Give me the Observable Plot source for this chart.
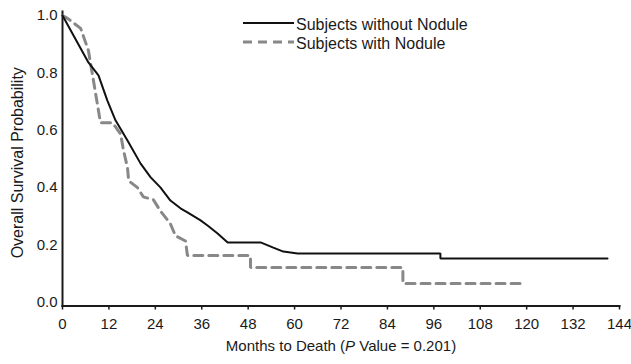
<!DOCTYPE html>
<html>
<head>
<meta charset="utf-8">
<script src="https://cdn.jsdelivr.net/npm/d3@7"></script>
<script src="https://cdn.jsdelivr.net/npm/@observablehq/plot@0.6"></script>
<style>
  html, body { margin: 0; padding: 0; background: #fff; }
  #chart { position: relative; width: 631px; height: 364px; }
  #chart svg { font-family: "Liberation Sans", Arial, sans-serif; }
</style>
</head>
<body>
<div id="chart"></div>
<script>
// Subjects without Nodule (solid curve): months and survival probability
const noNoduleMonths = [0, 6.7, 9.3, 11.6, 13.7, 16.8, 20.2, 22.8, 25.3, 27.9, 30.5, 32.3, 35.7, 37.5, 40.1, 42.7, 51.2, 54.5, 57.1, 60.8, 97.7, 97.7, 140.9];
const noNoduleSurv   = [1.0, 0.836, 0.791, 0.703, 0.634, 0.564, 0.483, 0.435, 0.400, 0.354, 0.327, 0.313, 0.285, 0.267, 0.239, 0.208, 0.208, 0.190, 0.176, 0.169, 0.169, 0.152, 0.152];

// Subjects with Nodule (dashed curve)
const noduleMonths = [0, 1.3, 4.7, 6.7, 8.0, 9.3, 9.8, 12.9, 15.0, 15.8, 16.8, 17.1, 19.4, 20.9, 23.5, 25.3, 27.9, 29.2, 31.8, 32.3, 48.6, 48.6, 88.0, 88.0, 118.4];
const noduleSurv   = [1.0, 0.99, 0.955, 0.878, 0.773, 0.668, 0.626, 0.626, 0.587, 0.528, 0.469, 0.423, 0.399, 0.367, 0.357, 0.318, 0.273, 0.231, 0.213, 0.162, 0.162, 0.120, 0.120, 0.065, 0.065];

const seriesNames = ["Subjects without Nodule", "Subjects with Nodule"];
const xTicks = [0, 12, 24, 36, 48, 60, 72, 84, 96, 108, 120, 132, 144];
const yTicks = [0, 0.2, 0.4, 0.6, 0.8, 1.0];
const xTitle = "Months to Death (P Value = 0.201)";
const yTitle = "Overall Survival Probability";

const solid = noNoduleMonths.map((m, i) => ({month: m, surv: noNoduleSurv[i]}));
const dashed = noduleMonths.map((m, i) => ({month: m, surv: noduleSurv[i]}));

const textColor = "#1a1a1a";
const solidColor = "#111111";
const dashColor = "#888888";

const chart = Plot.plot({
  width: 631,
  height: 364,
  marginLeft: 62,
  marginRight: 12,
  marginTop: 11,
  marginBottom: 58.5,
  style: {fontFamily: "Liberation Sans, Arial, sans-serif", fontSize: "15px", color: textColor, background: "#fff"},
  x: {domain: [0, 144], ticks: xTicks},
  y: {domain: [0, 1], insetTop: 4, insetBottom: 4},
  marks: [
    Plot.axisX({ticks: xTicks, tickSize: 4, tickPadding: 8, label: null, fontSize: 15, stroke: textColor, strokeWidth: 1.5}),
    Plot.axisY({ticks: yTicks, tickSize: 0, tickPadding: 5, tickFormat: d3.format(".1f"), label: null, fontSize: 15}),
    Plot.frame({anchor: "bottom", stroke: textColor, strokeWidth: 2}),
    Plot.frame({anchor: "left", stroke: textColor, strokeWidth: 2}),
    Plot.line(dashed, {x: "month", y: "surv", stroke: dashColor, strokeWidth: 3, strokeDasharray: "9,6", strokeLinejoin: "miter"}),
    Plot.line(solid, {x: "month", y: "surv", stroke: solidColor, strokeWidth: 2, strokeLinejoin: "miter"}),
    Plot.text([xTitle], {frameAnchor: "bottom", textAnchor: "middle", dy: 44.5, fontSize: 15, fill: textColor}),
    Plot.text([yTitle], {frameAnchor: "left", textAnchor: "middle", rotate: -90, dx: -45, dy: 4, fontSize: 16, fill: textColor})
  ]
});

document.getElementById("chart").appendChild(chart);

// Italic "P" in the x title
d3.select(chart).selectAll("text").filter(function() { return this.textContent === xTitle; })
  .each(function() {
    const t = d3.select(this);
    t.text(null);
    t.append("tspan").text("Months to Death (");
    t.append("tspan").attr("font-style", "italic").text("P");
    t.append("tspan").text(" Value = 0.201)");
  });

// Legend (top centre of the plot area)
const svg = d3.select(chart);
const lg = svg.append("g")
  .attr("font-family", "Liberation Sans, Arial, sans-serif")
  .attr("font-size", 16)
  .attr("text-anchor", "start")
  .attr("fill", textColor);
const rows = [
  {name: seriesNames[0], stroke: solidColor, width: 2, dash: null},
  {name: seriesNames[1], stroke: dashColor, width: 3, dash: "9,6"}
];
rows.forEach((r, i) => {
  const y = 23 + i * 19;
  lg.append("line").attr("x1", 243).attr("x2", 294).attr("y1", y).attr("y2", y)
    .attr("stroke", r.stroke).attr("stroke-width", r.width).attr("stroke-dasharray", r.dash);
  lg.append("text").attr("x", 296).attr("y", y + 1).attr("dy", "0.35em").attr("text-anchor", "start").text(r.name);
});
</script>
</body>
</html>
